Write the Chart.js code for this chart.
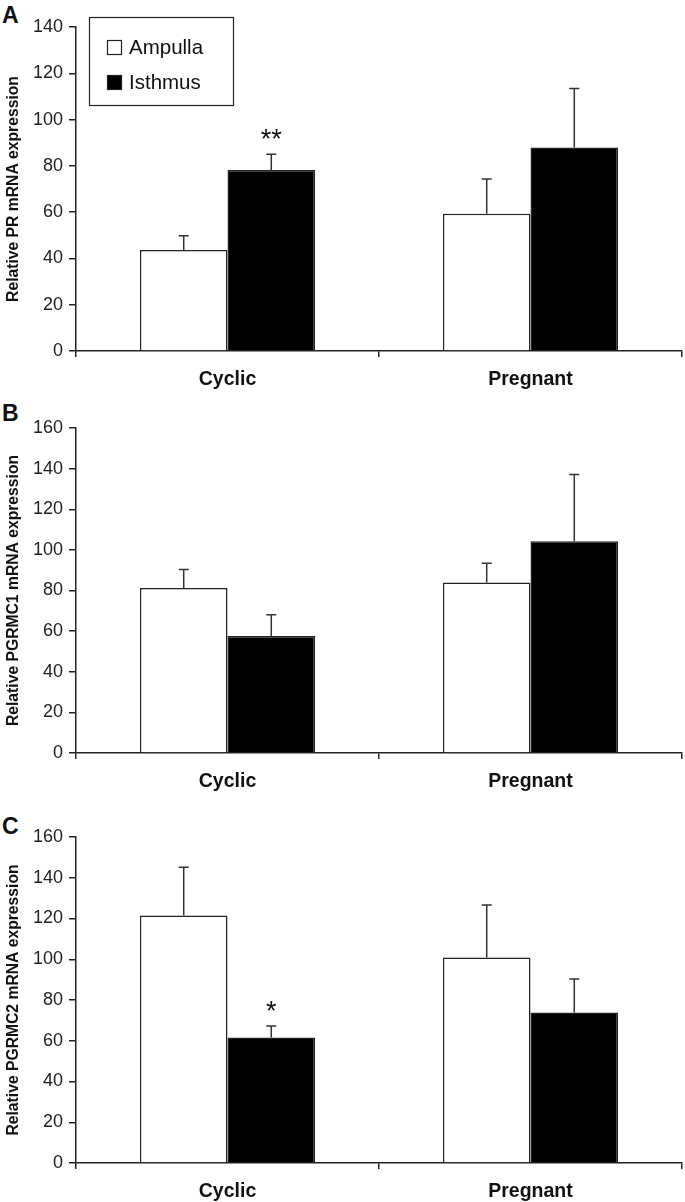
<!DOCTYPE html>
<html>
  <head>
    <title>PR, PGRMC1 and PGRMC2 mRNA expression</title>
    <script src="https://cdn.jsdelivr.net/npm/chart.js"></script>
    <style>
      body {
        margin: 0;
        background: white;
        width: 685px;
        height: 1202px;
        overflow: hidden;
        position: relative;
        font-family: "Liberation Sans", Arial, sans-serif;
      }
      .panel {
        position: absolute;
        left: 0;
        width: 685px;
      }
      .letter {
        position: absolute;
        left: 2px;
        font-weight: bold;
        font-size: 23px;
        line-height: 1;
        color: #111;
      }
    </style>
  </head>
  <body>
    <div class="letter" style="top: 4px">A</div>
    <div class="letter" style="top: 402px">B</div>
    <div class="letter" style="top: 815px">C</div>

    <div class="panel" style="top: 0px; height: 395px"><canvas id="chartA"></canvas></div>
    <div class="panel" style="top: 401px; height: 395px"><canvas id="chartB"></canvas></div>
    <div class="panel" style="top: 811px; height: 391px"><canvas id="chartC"></canvas></div>

    <script>
      const categories = ["Cyclic", "Pregnant"];
      const seriesNames = ["Ampulla", "Isthmus"];
      const yTicks = [0, 20, 40, 60, 80, 100, 120, 140, 160];

      // A - PR
      const prAmpulla = [43.6, 59.3];
      const prAmpullaErr = [6.2, 15.0];
      const prIsthmus = [78.2, 87.9];
      const prIsthmusErr = [6.8, 25.5];
      const prStars = ["**", ""];

      // B - PGRMC1
      const pgrmc1Ampulla = [81.2, 84.0];
      const pgrmc1AmpullaErr = [9.2, 9.4];
      const pgrmc1Isthmus = [57.6, 104.2];
      const pgrmc1IsthmusErr = [10.5, 32.9];
      const pgrmc1Stars = ["", ""];

      // C - PGRMC2
      const pgrmc2Ampulla = [121.5, 100.9];
      const pgrmc2AmpullaErr = [23.6, 25.7];
      const pgrmc2Isthmus = [61.6, 73.9];
      const pgrmc2IsthmusErr = [5.6, 16.4];
      const pgrmc2Stars = ["*", ""];

      const FONT = "'Liberation Sans', Arial, sans-serif";
      const INK = "#222";

      // upward error bars + significance stars
      const errorBars = {
        id: "errorBars",
        afterDatasetsDraw(chart) {
          const ctx = chart.ctx;
          const y = chart.scales.y;
          chart.data.datasets.forEach((ds, i) => {
            chart.getDatasetMeta(i).data.forEach((bar, j) => {
              const top = y.getPixelForValue(ds.data[j] + ds.errors[j]);
              ctx.save();
              ctx.strokeStyle = "#333";
              ctx.lineWidth = 1.5;
              ctx.beginPath();
              ctx.moveTo(bar.x, bar.y);
              ctx.lineTo(bar.x, top);
              ctx.moveTo(bar.x - 5, top);
              ctx.lineTo(bar.x + 5, top);
              ctx.stroke();
              if (ds.stars && ds.stars[j]) {
                ctx.fillStyle = "#111";
                ctx.font = "27px " + FONT;
                ctx.textAlign = "center";
                ctx.textBaseline = "alphabetic";
                ctx.fillText(ds.stars[j], bar.x, top - 6);
              }
              ctx.restore();
            });
          });
        },
      };

      // boxed legend inside the plot (panel A)
      const boxLegend = {
        id: "boxLegend",
        afterDraw(chart) {
          const ctx = chart.ctx;
          ctx.save();
          ctx.fillStyle = "white";
          ctx.fillRect(89, 17, 144, 88);
          ctx.strokeStyle = INK;
          ctx.lineWidth = 1.2;
          ctx.strokeRect(89.5, 17.5, 144, 88);
          ctx.font = "20.5px " + FONT;
          ctx.textBaseline = "middle";
          chart.data.datasets.forEach((ds, i) => {
            const cy = 47 + i * 35;
            ctx.fillStyle = ds.backgroundColor;
            ctx.fillRect(107, cy - 7, 15, 15);
            ctx.strokeStyle = INK;
            ctx.lineWidth = 1.2;
            ctx.strokeRect(107.5, cy - 6.5, 14, 14);
            ctx.fillStyle = "#111";
            ctx.fillText(ds.label, 129, cy + 1);
          });
          ctx.restore();
        },
      };

      function makePanel(id, title, ampulla, ampErr, isthmus, isthErr, stars, yMax, padTop, xHeight, withLegend) {
        return new Chart(document.getElementById(id), {
          type: "bar",
          data: {
            labels: categories,
            datasets: [
              {
                label: seriesNames[0],
                data: ampulla,
                errors: ampErr,
                backgroundColor: "#ffffff",
                borderColor: INK,
                borderWidth: 1.5,
              },
              {
                label: seriesNames[1],
                data: isthmus,
                errors: isthErr,
                stars: stars,
                backgroundColor: "#000000",
                borderColor: INK,
                borderWidth: 1.5,
              },
            ],
          },
          options: {
            responsive: true,
            maintainAspectRatio: false,
            animation: false,
            layout: { padding: { top: padTop, right: 3, left: 0, bottom: 0 } },
            datasets: { bar: { categoryPercentage: 0.578, barPercentage: 1 } },
            plugins: {
              legend: { display: false },
              tooltip: { enabled: false },
            },
            scales: {
              x: {
                grid: { drawOnChartArea: false, tickLength: 6, tickColor: INK, lineWidth: 1.5 },
                border: { color: INK, width: 1.5 },
                ticks: { color: "#111", padding: 11, font: { family: FONT, size: 19.5, weight: "bold" } },
                afterFit(scale) {
                  scale.height = xHeight;
                },
              },
              y: {
                min: 0,
                max: yMax,
                afterBuildTicks(scale) {
                  scale.ticks = yTicks.filter((v) => v <= yMax).map((v) => ({ value: v }));
                },
                grid: { drawOnChartArea: false, tickLength: 7, tickColor: INK, lineWidth: 1.5 },
                border: { color: INK, width: 1.5 },
                ticks: { color: INK, padding: 6, font: { family: FONT, size: 18 } },
                title: {
                  display: true,
                  text: title,
                  color: "#111",
                  padding: { top: 4, bottom: 0 },
                  font: { family: FONT, size: 15.7, weight: "bold" },
                },
                afterFit(scale) {
                  scale.width = 76;
                },
              },
            },
          },
          plugins: withLegend ? [errorBars, boxLegend] : [errorBars],
        });
      }

      makePanel("chartA", "Relative PR mRNA expression", prAmpulla, prAmpullaErr, prIsthmus, prIsthmusErr, prStars, 140, 27, 44, true);
      makePanel("chartB", "Relative PGRMC1 mRNA expression", pgrmc1Ampulla, pgrmc1AmpullaErr, pgrmc1Isthmus, pgrmc1IsthmusErr, pgrmc1Stars, 160, 27, 43, false);
      makePanel("chartC", "Relative PGRMC2 mRNA expression", pgrmc2Ampulla, pgrmc2AmpullaErr, pgrmc2Isthmus, pgrmc2IsthmusErr, pgrmc2Stars, 160, 26, 39, false);
    </script>
  </body>
</html>
